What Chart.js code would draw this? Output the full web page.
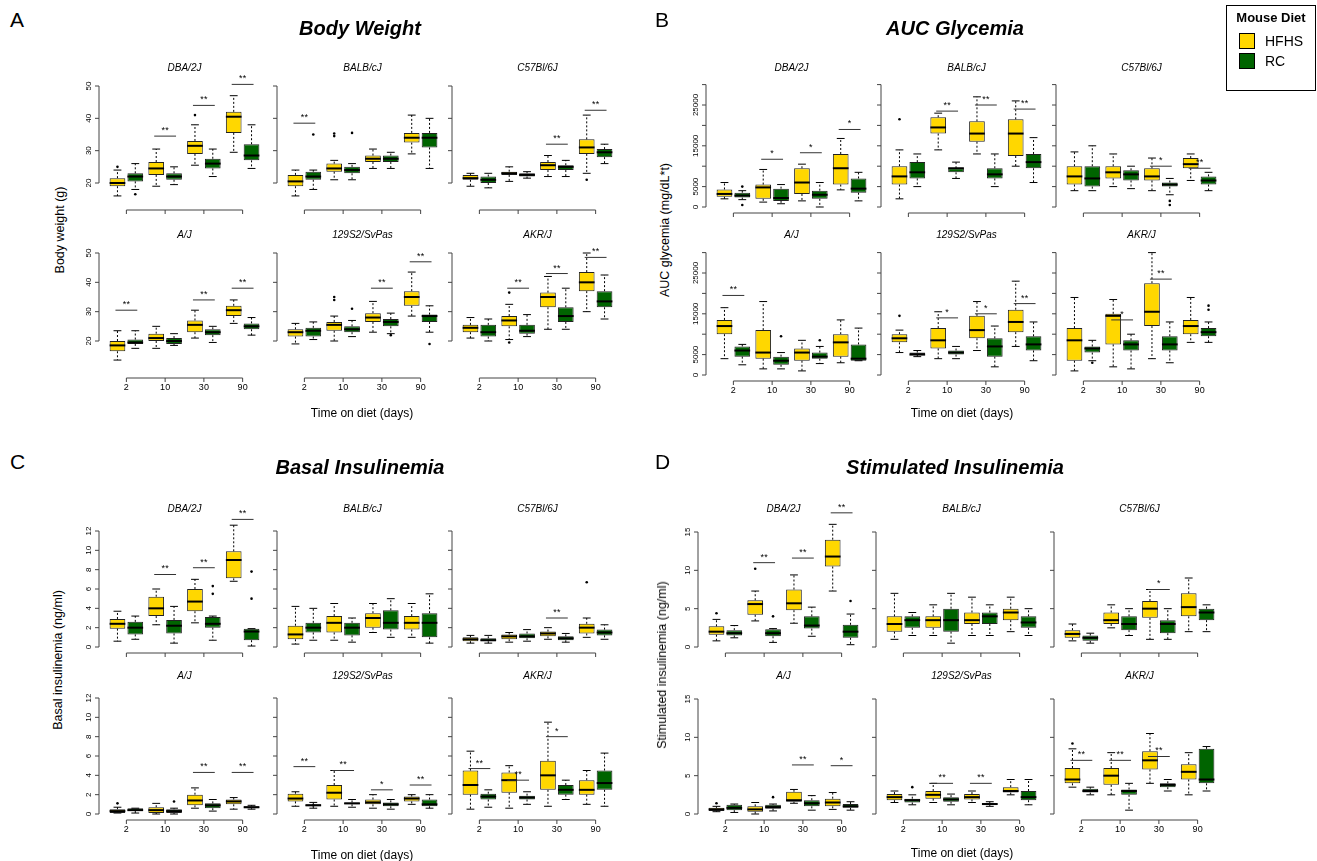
<!DOCTYPE html>
<html>
<head>
<meta charset="utf-8">
<script src="https://cdn.jsdelivr.net/npm/chart.js@4/dist/chart.umd.min.js"></script>
<style>
  body { margin: 0; background: #fff; font-family: "Liberation Sans", Arial, sans-serif; }
  #page { position: relative; width: 1317px; height: 861px; overflow: hidden; }
  canvas, .t { position: absolute; }
  .t { white-space: nowrap; color: #000; }
  .strain { font-size: 10px; font-style: italic; transform: translate(-50%, -50%); }
  .title { font-size: 20px; font-weight: bold; font-style: italic; transform: translate(-50%, -50%); }
  .letter { font-size: 21px; transform: translateY(-50%); }
  .xt { font-size: 12px; transform: translate(-50%, -50%); }
  .yt { font-size: 12.5px; transform: translate(-50%, -50%) rotate(-90deg); }
</style>
</head>
<body>
<div id="page"></div>
<script>
const days = ["2", "10", "30", "90"];
const strains = ["DBA/2J", "BALB/cJ", "C57Bl/6J", "A/J", "129S2/SvPas", "AKR/J"];

// [min, q1, median, q3, max] per day, one row per strain
const bwHFHS = [
  [[16,19,20,21.5,24],[19,22.5,24.5,26.5,30.5],[25.5,29,31.5,33,38],[29.5,35.5,40.5,42,47]],
  [[16,19,20.5,22.5,24],[21,23.5,24.5,26,27],[24.5,26.5,27.5,28.5,30.5],[29,32.5,34,35.5,41]],
  [[19,21,21.5,22.5,23],[20.5,22.5,23,23.5,25],[22,24,25.5,26.5,28.5],[23,29,31,33.5,41]],
  [[13.5,16.5,18.5,20,23.5],[17.5,20,21,22.5,25],[21,23,25.5,27,30.5],[26,28.5,30.5,32,34]],
  [[19,21.5,23,24,26],[20,23.5,25.5,26.5,28.5],[23,26.5,28,29.5,33.5],[28.5,32,35,37,43.5]],
  [[21,23,24.5,25.5,28],[20.5,25,27,28.5,32.5],[24,31.5,35,36.5,42],[30,37,40,43.5,50]]
];
const bwRC = [
  [[18,20.5,22,23,26],[19.5,21,22,23,25],[22,24.5,26,27.5,30.5],[24.5,27,28.5,32,38]],
  [[18,21,22,23.5,24],[21,23,24,25,26],[24.5,26.5,27.5,28.5,29.5],[24.5,31,34,35.5,40]],
  [[18.5,20,21,22,23],[21.5,22,22.5,23,23.5],[22,24,25,25.5,27],[26,28,29.5,30.5,32]],
  [[17.5,19,19.5,20.5,23.5],[18.5,19,20,21,22.5],[19.5,22,23,24,25],[22,24,25,26,28]],
  [[20.5,21.5,23.5,24.5,26.5],[21.5,23,24,25,27],[22.5,25,26.5,27.5,29.5],[23,26.5,28.5,29,32]],
  [[20,21.5,23,25.5,27.5],[21.5,22.5,23.5,25.5,29],[24,26.5,28.5,31.5,38],[27.5,31.5,33.5,37,42.5]]
];
const bwSig = [
  [[1,"**",34.5],[2,"**",44],[3,"**",50.5]],
  [[0,"**",38.5]],
  [[2,"**",32],[3,"**",42.5]],
  [[0,"**",30.5],[2,"**",34],[3,"**",38]],
  [[2,"**",38],[3,"**",47]],
  [[1,"**",38],[2,"**",43],[3,"**",48.5]]
];
// outliers: [strain, day, diet (0 = HFHS, 1 = RC), value]
const bwOut = [[0,0,0,25],[0,0,1,16.5],[0,2,0,41],[1,0,1,35],[1,1,0,34.5],[1,1,0,35.3],[1,1,1,35.5],
  [2,3,0,21],[4,1,0,34],[4,1,0,35],[4,1,1,31],[4,2,1,22],[4,3,1,19],[5,1,0,36.5],[5,1,0,19.5]];

const aucHFHS = [
  [[2000,2500,3200,4300,6000],[1200,2000,4800,5500,9200],[1500,3200,6000,9500,10500],[4200,5500,9500,13000,16800]],
  [[2000,5500,7500,10000,14000],[14000,18000,19500,22000,23000],[13000,16000,18000,21000,27000],[10000,12500,18000,21500,26000]],
  [[4000,5500,7500,10000,13500],[5000,7000,8500,10000,13000],[4000,6500,7500,9500,12000],[6500,9500,10500,12000,13000]],
  [[4000,10000,12000,13500,16500],[1500,4000,5500,11000,18000],[1000,3500,5500,6500,8500],[3000,4500,8000,10000,13500]],
  [[5500,8000,9000,10000,11000],[4000,6500,8500,11500,15500],[6000,9000,11000,14500,18000],[7000,10500,13000,16000,23000]],
  [[1000,3500,8500,11500,19000],[2000,7500,14500,15000,18500],[4000,12000,15500,22500,30000],[8000,10000,12000,13500,19000]]
];
const aucRC = [
  [[1800,2300,2800,3500,4000],[800,1500,2200,4500,5500],[0,2000,3000,4000,6000],[1500,3500,4500,7000,8500]],
  [[5000,7000,8500,11000,13000],[7000,8500,9500,9500,11000],[5000,7000,8000,9500,13000],[6000,9500,11000,13000,17000]],
  [[4000,5000,7000,10000,15000],[4500,6500,8000,9000,10000],[3000,5000,5500,6000,7000],[4000,5500,6500,7500,8500]],
  [[2500,4500,6000,7000,7500],[1500,2500,3500,4500,5500],[2800,4000,4500,5500,7000],[3500,3500,4000,7500,11500]],
  [[4500,5000,5000,5500,6000],[4000,5000,5500,6000,7000],[2000,4500,7000,9000,12000],[3500,6000,7500,9500,13000]],
  [[3500,5500,6500,7000,8500],[1500,6000,7500,8500,10000],[3000,6000,7500,9500,13000],[8000,9500,10500,11500,13000]]
];
const aucSig = [
  [[1,"*",11700],[2,"*",13300],[3,"*",19000]],
  [[1,"**",23500],[2,"**",25000],[3,"**",24000]],
  [[2,"*",10000],[3,"**",9500]],
  [[0,"**",19500]],
  [[1,"*",14000],[2,"*",15000],[3,"**",17500]],
  [[1,"*",13500],[2,"**",23500]]
];
const aucOut = [[0,0,1,5000],[0,0,1,500],[1,0,0,21500],[2,2,1,1500],[2,2,1,500],[3,1,1,9500],[3,2,1,8500],
  [4,0,0,14500],[5,0,1,3000],[5,3,1,17000],[5,3,1,16000]];

const basHFHS = [
  [[0.6,1.9,2.4,2.9,3.7],[2.3,3.2,4,5.2,6],[2.5,3.7,4.7,6,7],[6.8,7.1,9,9.9,12.6]],
  [[0.3,0.8,1.3,2.2,4.2],[0.7,1.5,2.5,3.2,4.5],[1.5,2,3,3.5,4.5],[1,1.8,2.5,3.2,4.5]],
  [[0.4,0.6,0.8,1,1.2],[0.5,0.8,1.1,1.3,1.5],[0.8,1.1,1.4,1.6,2],[1,1.4,2,2.4,3]],
  [[0.1,0.1,0.3,0.5,0.7],[0,0.1,0.4,0.7,1.1],[0.6,0.9,1.4,2,2.7],[0.5,1,1.3,1.5,1.7]],
  [[0.8,1.3,1.6,2.1,2.3],[0.8,1.5,2.2,3,4.5],[0.6,1,1.2,1.5,2],[1,1.3,1.6,1.8,2]],
  [[0.5,2,3,4.5,6.5],[0.6,2.2,3.5,4.3,5],[0.8,2.5,4,5.5,9.5],[1,2,2.5,3.5,4.5]]
];
const basRC = [
  [[0.8,1.3,2,2.6,3.2],[0.4,1.4,2.2,2.8,4.2],[0.7,2,2.4,3.1,3.2],[0.1,0.7,1.6,1.9,1.9]],
  [[0.7,1.5,2,2.5,4],[0.5,1.2,2,2.5,3],[1,1.8,2.5,3.8,5],[0.4,1,2.5,3.5,5.5]],
  [[0.4,0.6,0.7,0.9,1.2],[0.6,0.9,1.1,1.4,1.8],[0.5,0.7,0.9,1.1,1.4],[0.8,1.2,1.5,1.8,2.3]],
  [[0.1,0.3,0.4,0.6,0.6],[0,0.1,0.3,0.5,0.6],[0.3,0.6,0.9,1.1,1.5],[0.5,0.6,0.7,0.8,0.9]],
  [[0.6,0.8,0.9,1,1.2],[0.7,1,1.1,1.2,1.5],[0.5,0.8,1,1.2,1.5],[0.6,0.8,1,1.5,2]],
  [[0.7,1.5,1.8,2.1,2.5],[1,1.5,1.7,1.9,2.3],[1.5,2,2.5,3,3.5],[0.8,2.5,3.2,4.5,6.3]]
];
const basSig = [
  [[1,"**",7.5],[2,"**",8.2],[3,"**",13.2]],
  [],
  [[2,"**",3]],
  [[2,"**",4.3],[3,"**",4.3]],
  [[0,"**",4.9],[1,"**",4.5],[2,"*",2.5],[3,"**",3]],
  [[0,"**",4.7],[1,"**",3.5],[2,"*",8]]
];
const basOut = [[0,2,1,6.3],[0,2,1,5.5],[0,3,1,7.8],[0,3,1,5],[3,0,0,1.1],[3,1,1,1.3],[2,3,0,6.7],[4,0,1,0.9]];

const stiHFHS = [
  [[0.8,1.6,2,2.7,3.6],[3.4,4.2,5.6,6.1,7.3],[3.1,4.8,5.7,7.5,9.4],[7.3,10.5,11.8,14,16]],
  [[1,2,3,4,7],[1.5,2.5,3.5,4,5.5],[1.5,3,3.5,4.5,6.5],[2,3.5,4.5,5,6.5]],
  [[0.8,1.2,1.7,2.2,3],[2.5,3,3.5,4.5,5.5],[1,3.8,5,6,7.5],[2,4,5.2,7,9]],
  [[0.3,0.4,0.6,0.8,1],[0,0.3,0.6,1,1.5],[1.4,1.6,1.8,2.9,3.2],[0.6,1,1.5,2,2.8]],
  [[1.5,1.8,2.2,2.6,3],[1.5,2,2.5,3,4],[1.5,1.9,2.2,2.6,3],[2.5,2.8,3,3.5,4.5]],
  [[3.5,4,4.5,6,8.5],[2.5,3.8,5,6,8],[4,5.8,7,8.2,10.5],[2.5,4.5,5.5,6.5,8]]
];
const stiRC = [
  [[1.2,1.5,1.8,2.2,2.8],[0.6,1.4,1.8,2.3,2.4],[1.4,2.4,2.8,4,5.2],[0.3,1.2,2,2.9,4.3]],
  [[1.5,2.5,3.5,4,4.5],[0.5,2,3.5,5,7],[1.5,3,4,4.5,5.5],[1.5,2.5,3.2,4,5]],
  [[0.5,0.8,1.2,1.5,1.8],[1.5,2.2,3,4,5],[1,1.8,3,3.5,5],[2,3.5,4.5,5,5.5]],
  [[0.2,0.5,0.8,1.2,1.3],[0.4,0.7,0.9,1.2,1.3],[0.5,1,1.4,1.8,2.4],[0.5,0.8,1,1.3,1.6]],
  [[1.2,1.5,1.8,2,2.5],[1.2,1.6,1.9,2.2,2.6],[1,1.2,1.3,1.4,1.6],[1.2,1.8,2.2,3,4.5]],
  [[2.5,2.8,3,3.3,3.5],[0.5,2.5,3,3.2,4],[3,3.5,3.8,4,4.5],[3,4,4.5,8.5,8.8]]
];
const stiSig = [
  [[1,"**",11],[2,"**",11.6],[3,"**",17.5]],
  [],
  [[2,"*",7.5]],
  [[2,"**",6.4],[3,"*",6.3]],
  [[1,"**",4],[2,"**",4]],
  [[0,"**",7],[1,"**",7],[2,"**",7.5]]
];
const stiOut = [[0,0,0,4.4],[0,1,0,10.2],[0,1,1,4],[0,3,1,6],[3,0,0,1.4],[3,1,1,2.2],[4,0,1,3.5],[5,0,0,9.2]];

const bwTicks = [20, 30, 40, 50];
const bwLabels = [20, 30, 40, 50];
const aucTicks = [0, 5000, 10000, 15000, 20000, 25000, 30000];
const aucLabels = [0, 5000, 15000, 25000];
const basTicks = [0, 2, 4, 6, 8, 10, 12];
const basLabels = [0, 2, 4, 6, 8, 10, 12];
const stiTicks = [0, 5, 10, 15];
const stiLabels = [0, 5, 10, 15];

const HFHS_COLOR = "#FFD700";
const RC_COLOR = "#006400";
const AREA_W = 155;

const page = document.getElementById("page");
function addText(cls, txt, x, y) {
  const d = document.createElement("div");
  d.className = "t " + cls;
  d.textContent = txt;
  d.style.left = x + "px";
  d.style.top = y + "px";
  page.appendChild(d);
}

const boxPlugin = {
  id: "box",
  afterDatasetsDraw(chart) {
    const o = chart.options.plugins.box;
    const ctx = chart.ctx, ys = chart.scales.y, xs = chart.scales.x;
    const area = chart.chartArea;
    const Y = v => ys.getPixelForValue(v);
    const line = (a, b, c, d) => { ctx.beginPath(); ctx.moveTo(a, b); ctx.lineTo(c, d); ctx.stroke(); };
    ctx.save();
    ctx.strokeStyle = "#000";
    chart.data.datasets.forEach((ds, di) => {
      chart.getDatasetMeta(di).data.forEach((el, i) => {
        const s = ds.stats[i], cx = el.x, hw = el.width / 2;
        ctx.lineWidth = 1;
        ctx.setLineDash([2, 2]);
        line(cx, Y(s[3]), cx, Y(s[4]));
        line(cx, Y(s[1]), cx, Y(s[0]));
        ctx.setLineDash([]);
        line(cx - hw / 2, Y(s[4]), cx + hw / 2, Y(s[4]));
        line(cx - hw / 2, Y(s[0]), cx + hw / 2, Y(s[0]));
        ctx.lineWidth = 2;
        line(cx - hw, Y(s[2]), cx + hw, Y(s[2]));
      });
    });
    // outlier dots
    ctx.fillStyle = "#000";
    o.out.forEach(([d, diet, v]) => {
      const el = chart.getDatasetMeta(diet).data[d];
      ctx.beginPath();
      ctx.arc(el.x, Y(v), 1.3, 0, Math.PI * 2);
      ctx.fill();
    });
    // significance marks
    const m0 = chart.getDatasetMeta(0), m1 = chart.getDatasetMeta(1);
    ctx.lineWidth = 1;
    ctx.strokeStyle = "#333";
    ctx.font = "9px 'Liberation Sans', Arial";
    ctx.textAlign = "center";
    ctx.textBaseline = "bottom";
    o.sig.forEach(([i, lab, v]) => {
      const a = m0.data[i].x - 2, b = m1.data[i].x + 2;
      line(a, Y(v), b, Y(v));
      ctx.fillText(lab, (a + b) / 2, Y(v) - 1);
    });
    // R-style y axis, offset left of the plot area
    ctx.strokeStyle = "#444";
    const t = o.ticks, ax = area.left - 8;
    line(ax, Y(t[0]), ax, Y(t[t.length - 1]));
    t.forEach(v => line(ax - 4, Y(v), ax, Y(v)));
    if (o.first) {
      ctx.font = "8px 'Liberation Sans', Arial";
      ctx.textBaseline = "middle";
      o.labels.forEach(v => {
        ctx.save();
        ctx.translate(ax - 10, Y(v));
        ctx.rotate(-Math.PI / 2);
        ctx.fillText(String(v), 0, 0);
        ctx.restore();
      });
    }
    // x axis below the plot area
    const yb = area.bottom + 4;
    const x0 = xs.getPixelForValue(0), x3 = xs.getPixelForValue(3);
    line(x0, yb, x3, yb);
    ctx.font = "9px 'Liberation Sans', Arial";
    ctx.textBaseline = "top";
    for (let k = 0; k < 4; k++) {
      const xp = xs.getPixelForValue(k);
      line(xp, yb, xp, yb + 4);
      if (o.bottomRow) ctx.fillText(days[k], xp, yb + 5);
    }
    ctx.restore();
  }
};

function makeChart(cfg) {
  const { ax, row, first, bottomRow, hf, rc, sig, out, ticks, labels } = cfg;
  const scale = (row.p0 - row.p1) / (row.v1 - row.v0);
  const min = row.v0 - (row.bottom - row.p0) / scale;
  const max = row.v0 + (row.p0 - row.top) / scale;
  const padL = (first ? 32 : 12) + 8, padT = 14, padB = 26, padR = 4;
  const cv = document.createElement("canvas");
  cv.width = padL + AREA_W + padR;
  cv.height = (row.bottom - row.top) + padT + padB;
  cv.style.left = (ax + 8 - padL) + "px";
  cv.style.top = (row.top - padT) + "px";
  page.appendChild(cv);
  new Chart(cv.getContext("2d"), {
    type: "bar",
    data: {
      labels: days,
      datasets: [
        { label: "HFHS", data: hf.map(s => [s[1], s[3]]), stats: hf,
          backgroundColor: HFHS_COLOR, borderColor: "#222", borderWidth: 1, borderSkipped: false },
        { label: "RC", data: rc.map(s => [s[1], s[3]]), stats: rc,
          backgroundColor: RC_COLOR, borderColor: "#222", borderWidth: 1, borderSkipped: false }
      ]
    },
    options: {
      responsive: false,
      animation: false,
      devicePixelRatio: 1,
      layout: { padding: { top: padT, bottom: padB, left: padL, right: padR } },
      categoryPercentage: 0.92,
      barPercentage: 0.88,
      scales: {
        x: { display: false },
        y: { display: false, min: min, max: max }
      },
      plugins: {
        legend: { display: false },
        tooltip: { enabled: false },
        box: { sig: sig, out: out, ticks: ticks, labels: labels, first: first, bottomRow: bottomRow }
      }
    },
    plugins: [boxPlugin]
  });
}

function panel(p) {
  for (let k = 0; k < 6; k++) {
    const r = k < 3 ? 0 : 1, col = k % 3;
    const ax = p.cols[col];
    makeChart({
      ax: ax, row: p.rows[r], first: col === 0, bottomRow: r === 1,
      hf: p.hf[k], rc: p.rc[k], sig: p.sig[k],
      out: p.out.filter(q => q[0] === k).map(q => q.slice(1)),
      ticks: p.ticks, labels: p.labels
    });
    addText("strain", strains[k], ax + 8 + AREA_W / 2, p.labelY[r]);
  }
}

panel({ cols: [99, 277, 452], labelY: [67, 234],
  rows: [{ v0: 20, p0: 183, v1: 50, p1: 86, top: 78, bottom: 206 },
         { v0: 20, p0: 341, v1: 50, p1: 253, top: 245, bottom: 374 }],
  hf: bwHFHS, rc: bwRC, sig: bwSig, out: bwOut, ticks: bwTicks, labels: bwLabels });
panel({ cols: [706, 881, 1056], labelY: [67, 234],
  rows: [{ v0: 0, p0: 207, v1: 25000, p1: 105, top: 80, bottom: 209 },
         { v0: 0, p0: 375, v1: 25000, p1: 273, top: 248, bottom: 377 }],
  hf: aucHFHS, rc: aucRC, sig: aucSig, out: aucOut, ticks: aucTicks, labels: aucLabels });
panel({ cols: [99, 277, 452], labelY: [508, 675],
  rows: [{ v0: 0, p0: 647, v1: 12, p1: 531, top: 515, bottom: 649 },
         { v0: 0, p0: 814, v1: 12, p1: 698, top: 682, bottom: 816 }],
  hf: basHFHS, rc: basRC, sig: basSig, out: basOut, ticks: basTicks, labels: basLabels });
panel({ cols: [698, 876, 1054], labelY: [508, 675],
  rows: [{ v0: 0, p0: 647, v1: 15, p1: 532, top: 517, bottom: 649 },
         { v0: 0, p0: 814, v1: 15, p1: 699, top: 684, bottom: 816 }],
  hf: stiHFHS, rc: stiRC, sig: stiSig, out: stiOut, ticks: stiTicks, labels: stiLabels });

addText("letter", "A", 10, 20); addText("letter", "B", 655, 20);
addText("letter", "C", 10, 462); addText("letter", "D", 655, 462);
addText("title", "Body Weight", 360, 28); addText("title", "AUC Glycemia", 955, 28);
addText("title", "Basal Insulinemia", 360, 467); addText("title", "Stimulated Insulinemia", 955, 467);
addText("xt", "Time on diet (days)", 362, 413); addText("xt", "Time on diet (days)", 962, 413);
addText("xt", "Time on diet (days)", 362, 855); addText("xt", "Time on diet (days)", 962, 853);
addText("yt", "Body weight (g)", 60, 230);
addText("yt", "AUC glycemia (mg/dL*t)", 665, 230);
addText("yt", "Basal insulinemia (ng/ml)", 58, 660);
addText("yt", "Stimulated insulinemia (ng/ml)", 662, 665);

// legend
const lg = document.createElement("div");
lg.style.cssText = "position:absolute;left:1226px;top:5px;width:88px;height:84px;border:1px solid #000;font-size:14px;";
lg.innerHTML =
  '<div style="font-weight:bold;font-size:13px;text-align:center;margin-top:4px">Mouse Diet</div>' +
  '<div style="margin:8px 0 0 12px;display:flex;align-items:center"><span style="display:inline-block;width:14px;height:14px;border:1px solid #000;background:' + HFHS_COLOR + ';margin-right:10px"></span>HFHS</div>' +
  '<div style="margin:4px 0 0 12px;display:flex;align-items:center"><span style="display:inline-block;width:14px;height:14px;border:1px solid #000;background:' + RC_COLOR + ';margin-right:10px"></span>RC</div>';
page.appendChild(lg);
</script>
</body>
</html>
